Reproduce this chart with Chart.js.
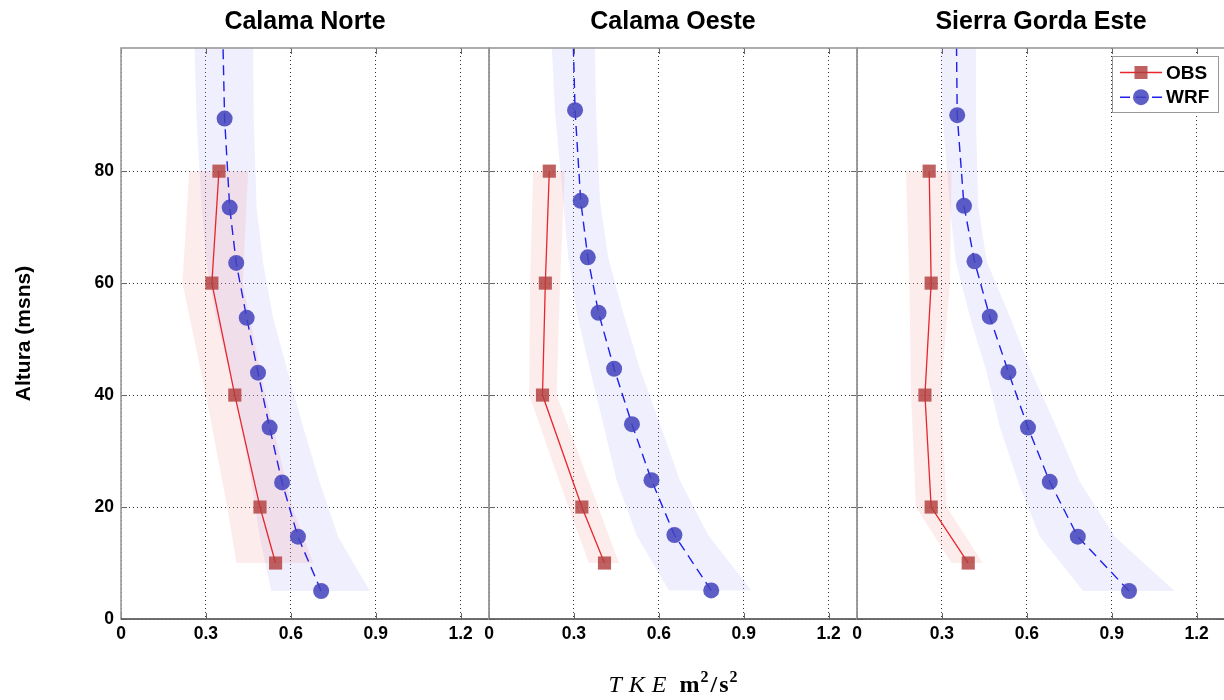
<!DOCTYPE html>
<html>
<head>
<meta charset="utf-8">
<title>TKE profiles</title>
<script src="https://cdn.jsdelivr.net/npm/chart.js@4.4.1/dist/chart.umd.min.js"></script>
<style>
  html, body { margin: 0; padding: 0; background: #fff; overflow: hidden; }
  #wrap { position: relative; width: 1224px; height: 700px; overflow: hidden; }
  #wrap canvas { position: absolute; top: 0; }
</style>
</head>
<body>
<div id="wrap">
  <canvas id="norte" width="495" height="700" style="left:0px"></canvas>
  <canvas id="oeste" width="380" height="700" style="left:483px"></canvas>
  <canvas id="sierra" width="374" height="700" style="left:851px"></canvas>
</div>
<script>
// --- data -------------------------------------------------------------
const xTicks = [0, 0.3, 0.6, 0.9, 1.2];
const yTicks = [0, 20, 40, 60, 80];

// observed heights (m above ground)
const obsHeight = [10, 20, 40, 60, 80];

// Calama Norte
const obsNorte     = [0.546, 0.491, 0.402, 0.321, 0.346];
const obsNorteLow  = [0.408, 0.375, 0.300, 0.217, 0.241];
const obsNorteHigh = [0.679, 0.605, 0.510, 0.430, 0.449];
const wrfNorteHeight = [5.0, 14.7, 24.4, 34.2, 44.0, 53.8, 63.6, 73.5, 89.4, 110];
const wrfNorte       = [0.707, 0.625, 0.569, 0.525, 0.484, 0.444, 0.407, 0.384, 0.366, 0.357];
const wrfNorteLow    = [0.531, 0.490, 0.461, 0.426, 0.385, 0.335, 0.302, 0.285, 0.267, 0.255];
const wrfNorteHigh   = [0.879, 0.767, 0.702, 0.644, 0.590, 0.537, 0.502, 0.479, 0.469, 0.466];

// Calama Oeste
const obsOeste     = [0.408, 0.328, 0.189, 0.199, 0.213];
const obsOesteLow  = [0.353, 0.280, 0.142, 0.145, 0.156];
const obsOesteHigh = [0.459, 0.386, 0.239, 0.251, 0.268];
const wrfOesteHeight = [5.1, 15.0, 24.8, 34.8, 44.7, 54.7, 64.6, 74.7, 90.9, 110];
const wrfOeste       = [0.785, 0.655, 0.574, 0.505, 0.442, 0.387, 0.349, 0.324, 0.304, 0.294];
const wrfOesteLow    = [0.636, 0.521, 0.451, 0.404, 0.356, 0.310, 0.280, 0.262, 0.233, 0.214];
const wrfOesteHigh   = [0.927, 0.774, 0.674, 0.604, 0.533, 0.474, 0.421, 0.392, 0.378, 0.371];

// Sierra Gorda Este
const obsSierra     = [0.393, 0.262, 0.240, 0.262, 0.255];
const obsSierraLow  = [0.334, 0.208, 0.191, 0.185, 0.173];
const obsSierraHigh = [0.444, 0.317, 0.295, 0.328, 0.334];
const wrfSierraHeight = [5.0, 14.7, 24.5, 34.2, 44.1, 54.0, 63.9, 73.8, 90.0, 110];
const wrfSierra       = [0.961, 0.780, 0.681, 0.604, 0.535, 0.469, 0.415, 0.378, 0.354, 0.350];
const wrfSierraLow    = [0.799, 0.646, 0.569, 0.505, 0.458, 0.399, 0.349, 0.328, 0.302, 0.288];
const wrfSierraHigh   = [1.122, 0.911, 0.787, 0.705, 0.617, 0.540, 0.458, 0.428, 0.420, 0.420];

// --- styles -----------------------------------------------------------
const OBS_LINE = 'rgb(232, 38, 44)';
const OBS_MARK = 'rgba(178, 62, 62, 0.82)';
const OBS_BAND = 'rgba(245, 160, 160, 0.2)';
const WRF_LINE = 'rgb(32, 32, 235)';
const WRF_MARK = 'rgba(68, 68, 190, 0.86)';
const WRF_BAND = 'rgba(160, 160, 245, 0.17)';
const WRF_DASH = [10, 6];

Chart.defaults.font.family = '"Liberation Sans", Arial, sans-serif';
Chart.defaults.color = '#000';

const pts = (xs, ys) => xs.map((x, i) => ({ x, y: ys[i] }));
// closed polygon: lower edge going up, upper edge coming back down
const band = (lo, hi, ys) => pts(lo, ys).concat(pts(hi, ys).reverse());

// axes box with MATLAB style inward ticks
const frame = {
  id: 'frame',
  afterDatasetsDraw(chart) {
    const { ctx, chartArea: a, scales: { x, y } } = chart;
    ctx.save();
    ctx.strokeStyle = '#666';
    ctx.lineWidth = 1;
    ctx.beginPath();
    x.ticks.forEach(t => {
      const px = Math.round(x.getPixelForValue(t.value)) + 0.5;
      ctx.moveTo(px, a.bottom); ctx.lineTo(px, a.bottom - 6);
      ctx.moveTo(px, a.top); ctx.lineTo(px, a.top + 6);
    });
    y.ticks.forEach(t => {
      const py = Math.round(y.getPixelForValue(t.value)) + 0.5;
      ctx.moveTo(a.left, py); ctx.lineTo(a.left + 6, py);
      ctx.moveTo(a.right, py); ctx.lineTo(a.right - 6, py);
    });
    ctx.stroke();
    ctx.strokeStyle = '#9a9a9a';
    ctx.lineWidth = 1.6;
    ctx.strokeRect(a.left, a.top, a.right - a.left, a.bottom - a.top);
    ctx.strokeStyle = '#333';
    ctx.lineWidth = 1.2;
    ctx.beginPath();
    ctx.moveTo(a.left, a.bottom);
    ctx.lineTo(a.right, a.bottom);
    ctx.stroke();
    ctx.restore();
  }
};

// boxed legend in the upper right corner
const legendBox = {
  id: 'legendBox',
  afterDraw(chart) {
    const { ctx, chartArea: a } = chart;
    const x0 = a.right - 113, y0 = a.top + 8, w = 106, h = 56;
    ctx.save();
    ctx.fillStyle = '#fff';
    ctx.fillRect(x0, y0, w, h);
    ctx.strokeStyle = '#999';
    ctx.lineWidth = 1;
    ctx.strokeRect(x0 + 0.5, y0 + 0.5, w, h);
    const rows = chart.data.datasets.filter(d => d.label);
    rows.forEach((d, i) => {
      const cy = y0 + 16.5 + i * 24.7;
      ctx.strokeStyle = d.borderColor;
      ctx.lineWidth = d.borderWidth;
      ctx.setLineDash(d.borderDash || []);
      ctx.beginPath();
      ctx.moveTo(x0 + 8, cy);
      ctx.lineTo(x0 + 50, cy);
      ctx.stroke();
      ctx.setLineDash([]);
      ctx.fillStyle = d.pointBackgroundColor;
      const mx = x0 + 29;
      if (d.pointStyle === 'rect') {
        ctx.fillRect(mx - 6.5, cy - 6.5, 13, 13);
      } else {
        ctx.beginPath();
        ctx.arc(mx, cy, 8, 0, Math.PI * 2);
        ctx.fill();
      }
      ctx.fillStyle = '#000';
      ctx.font = 'bold 19px "Liberation Sans", Arial, sans-serif';
      ctx.textBaseline = 'middle';
      ctx.fillText(d.label, x0 + 54, cy + 1);
    });
    ctx.restore();
  }
};

// shared x label: italic TKE followed by bold units
const tkeTitle = {
  id: 'tkeTitle',
  afterDraw(chart) {
    const { ctx, chartArea: a } = chart;
    const it = 'italic 24px "Liberation Serif", "DejaVu Serif", serif';
    const bd = 'bold 24px "Liberation Serif", "DejaVu Serif", serif';
    const sup = 'bold 16px "Liberation Serif", "DejaVu Serif", serif';
    const parts = [
      { t: 'T', f: it, gap: 7, up: 0 },
      { t: 'K', f: it, gap: 7, up: 0 },
      { t: 'E', f: it, gap: 13, up: 0 },
      { t: 'm', f: bd, gap: 1, up: 0 },
      { t: '2', f: sup, gap: 2, up: 10 },
      { t: '/', f: bd, gap: 2, up: 0 },
      { t: 's', f: bd, gap: 1, up: 0 },
      { t: '2', f: sup, gap: 0, up: 10 }
    ];
    ctx.save();
    let total = 0;
    parts.forEach(p => { ctx.font = p.f; p.w = ctx.measureText(p.t).width; total += p.w + p.gap; });
    let x = (a.left + a.right) / 2 - total / 2;
    const base = 692;
    ctx.fillStyle = '#000';
    ctx.textBaseline = 'alphabetic';
    parts.forEach(p => {
      ctx.font = p.f;
      ctx.fillText(p.t, x, base - p.up);
      x += p.w + p.gap;
    });
    ctx.restore();
  }
};

function makePanel(id, name, obs, obsLow, obsHigh, wrfH, wrf, wrfLow, wrfHigh, pos) {
  const first = pos === 0, last = pos === 2;
  const extra = [frame];
  if (pos === 1) extra.push(tkeTitle);
  if (last) extra.push(legendBox);
  return new Chart(document.getElementById(id), {
    type: 'scatter',
    data: {
      datasets: [
        {
          data: band(wrfLow, wrfHigh, wrfH),
          showLine: true, fill: 'shape', backgroundColor: WRF_BAND,
          borderColor: 'rgba(0,0,0,0)', borderWidth: 1, pointRadius: 0, order: 6
        },
        {
          data: band(obsLow, obsHigh, obsHeight),
          showLine: true, fill: 'shape', backgroundColor: OBS_BAND,
          borderColor: 'rgba(0,0,0,0)', borderWidth: 1, pointRadius: 0, order: 5
        },
        {
          label: 'OBS',
          data: pts(obs, obsHeight),
          showLine: true, borderColor: OBS_LINE, borderWidth: 1.3,
          pointStyle: 'rect', pointRadius: 9.3, pointBorderWidth: 0,
          pointBackgroundColor: OBS_MARK, order: 2
        },
        {
          label: 'WRF',
          data: pts(wrf, wrfH),
          showLine: true, borderColor: WRF_LINE, borderWidth: 1.4, borderDash: WRF_DASH,
          pointStyle: 'circle', pointRadius: 8, pointBorderWidth: 0,
          pointBackgroundColor: WRF_MARK, order: 1
        }
      ]
    },
    options: {
      responsive: false,
      animation: false,
      devicePixelRatio: 1,
      layout: {
        autoPadding: false,
        padding: { left: first ? 0 : 6, right: last ? 0 : 6, top: 0, bottom: 0 }
      },
      elements: { line: { tension: 0 } },
      plugins: {
        legend: { display: false },
        tooltip: { enabled: false },
        title: {
          display: true, text: name, fullSize: false,
          font: { size: 25, weight: 'bold' },
          padding: { top: 7, bottom: 11 }, color: '#000'
        }
      },
      scales: {
        x: {
          type: 'linear', min: 0, max: 1.3,
          afterBuildTicks: s => { s.ticks = xTicks.map(value => ({ value })); },
          afterFit: s => { s.height = 81; s.paddingLeft = 0; s.paddingRight = 0; },
          grid: { color: 'rgba(0,0,0,0.8)', lineWidth: 1, drawTicks: false },
          border: { display: false, dash: [1, 3] },
          ticks: {
            autoSkip: false, maxRotation: 0, padding: 5,
            font: { size: 17.5, weight: 'bold' },
            callback: v => String(v)
          }
        },
        y: {
          type: 'linear', min: 0, max: 102,
          afterBuildTicks: s => { s.ticks = yTicks.map(value => ({ value })); },
          afterFit: s => { s.width = first ? 121 : 0; s.paddingTop = 0; s.paddingBottom = 0; },
          grid: { color: 'rgba(0,0,0,0.8)', lineWidth: 1, drawTicks: false },
          border: { display: false, dash: [1, 3] },
          ticks: {
            display: first, padding: 7,
            font: { size: 17.5, weight: 'bold' },
            callback: v => String(v)
          },
          title: {
            display: first, text: 'Altura (msns)',
            font: { size: 21, weight: 'bold' },
            padding: { top: 12, bottom: 0 }
          }
        }
      }
    },
    plugins: extra
  });
}

makePanel('norte', 'Calama Norte', obsNorte, obsNorteLow, obsNorteHigh,
  wrfNorteHeight, wrfNorte, wrfNorteLow, wrfNorteHigh, 0);
makePanel('oeste', 'Calama Oeste', obsOeste, obsOesteLow, obsOesteHigh,
  wrfOesteHeight, wrfOeste, wrfOesteLow, wrfOesteHigh, 1);
makePanel('sierra', 'Sierra Gorda Este', obsSierra, obsSierraLow, obsSierraHigh,
  wrfSierraHeight, wrfSierra, wrfSierraLow, wrfSierraHigh, 2);
</script>
</body>
</html>
